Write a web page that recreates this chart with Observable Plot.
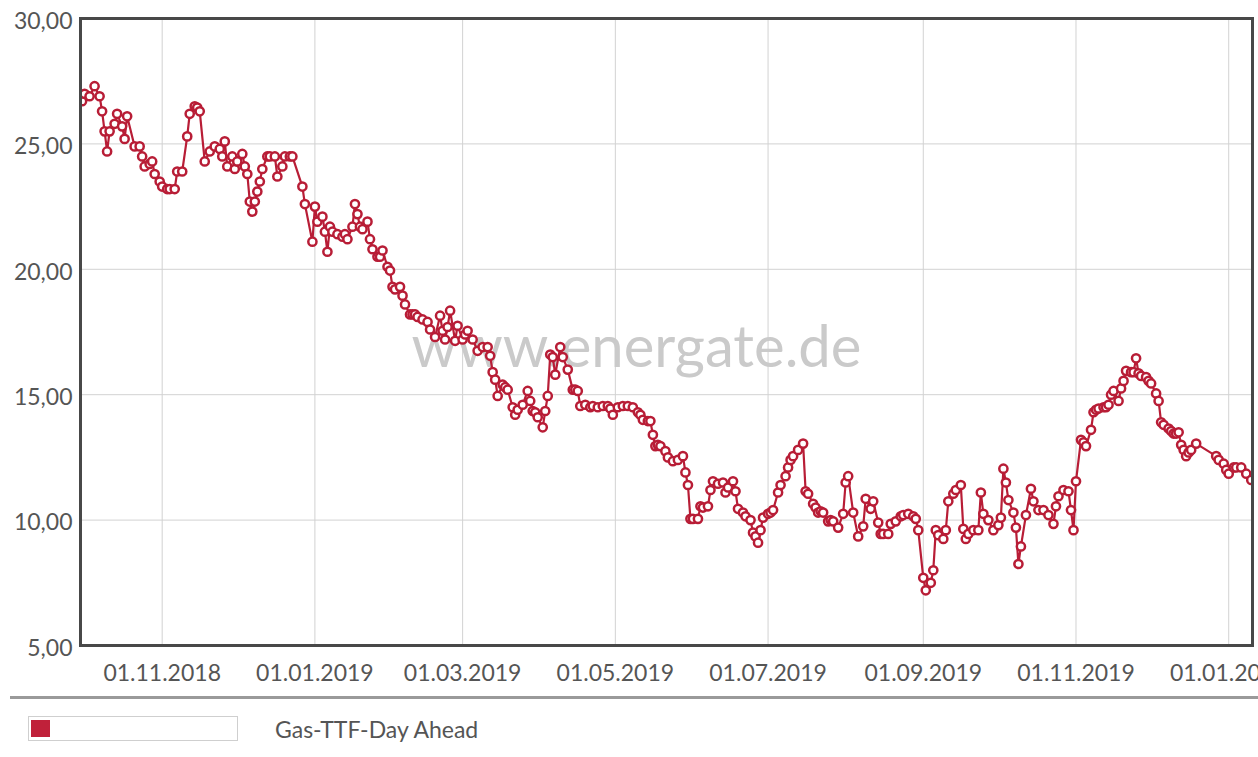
<!DOCTYPE html>
<html>
<head>
<meta charset="utf-8">
<script src="https://cdn.jsdelivr.net/npm/d3@7"></script>
<script src="https://cdn.jsdelivr.net/npm/@observablehq/plot@0.6"></script>
<style>
  html, body { margin: 0; padding: 0; background: #fff; overflow: hidden; }
  body { width: 1258px; height: 757px; position: relative; font-family: Lato, "Open Sans", sans-serif; }
  #chart { position: absolute; left: 0; top: 0; }
  #sep { position: absolute; left: 10px; right: 0; top: 696px; height: 3px; background: #9a9a9a; }
  #legbox { position: absolute; left: 28px; top: 716px; width: 210px; height: 25px; border: 1px solid #cfcfcf; box-sizing: border-box; }
  #legsw { position: absolute; left: 2px; top: 3px; width: 19px; height: 17px; background: #c0213a; }
  #legtxt { position: absolute; left: 275px; top: 714px; font-family: Lato, sans-serif; font-size: 23px; color: #555; line-height: 30px; }
</style>
</head>
<body>
<div id="chart"></div>
<div id="sep"></div>
<div id="legbox"><div id="legsw"></div></div>
<div id="legtxt">Gas-TTF-Day Ahead</div>
<script>
const seriesName = "Gas-TTF-Day Ahead";
const watermark = "www.energate.de";

const dates = [
"2018-09-30","2018-10-01","2018-10-03","2018-10-05","2018-10-07","2018-10-08","2018-10-09","2018-10-10","2018-10-11","2018-10-13",
"2018-10-14","2018-10-16","2018-10-17","2018-10-18","2018-10-21","2018-10-23","2018-10-24","2018-10-25","2018-10-27","2018-10-28",
"2018-10-29","2018-10-31","2018-11-01","2018-11-03","2018-11-04","2018-11-06","2018-11-07","2018-11-09","2018-11-11","2018-11-12",
"2018-11-14","2018-11-15","2018-11-16","2018-11-18","2018-11-20","2018-11-22","2018-11-24","2018-11-25","2018-11-26","2018-11-27",
"2018-11-29","2018-11-30","2018-12-01","2018-12-03","2018-12-04","2018-12-05","2018-12-06","2018-12-07","2018-12-08","2018-12-09",
"2018-12-10","2018-12-11","2018-12-13","2018-12-14","2018-12-16","2018-12-17","2018-12-19","2018-12-20","2018-12-22","2018-12-23",
"2018-12-27","2018-12-28","2018-12-31","2019-01-01","2019-01-02","2019-01-04","2019-01-05","2019-01-06","2019-01-07","2019-01-08",
"2019-01-10","2019-01-12","2019-01-13","2019-01-14","2019-01-16","2019-01-17","2019-01-18","2019-01-19","2019-01-20","2019-01-22",
"2019-01-23","2019-01-24","2019-01-26","2019-01-27","2019-01-28","2019-01-30","2019-01-31","2019-02-01","2019-02-02","2019-02-04",
"2019-02-05","2019-02-06","2019-02-08","2019-02-09","2019-02-10","2019-02-11","2019-02-13","2019-02-15","2019-02-16","2019-02-18",
"2019-02-20","2019-02-21","2019-02-22","2019-02-23","2019-02-24","2019-02-26","2019-02-27","2019-03-01","2019-03-02","2019-03-03",
"2019-03-05","2019-03-07","2019-03-09","2019-03-11","2019-03-12","2019-03-13","2019-03-14","2019-03-15","2019-03-17","2019-03-18",
"2019-03-19","2019-03-21","2019-03-22","2019-03-23","2019-03-25","2019-03-27","2019-03-28","2019-03-29","2019-03-30","2019-03-31",
"2019-04-02","2019-04-03","2019-04-04","2019-04-05","2019-04-06","2019-04-07","2019-04-09","2019-04-10","2019-04-12","2019-04-14",
"2019-04-15","2019-04-16","2019-04-17","2019-04-19","2019-04-21","2019-04-22","2019-04-24","2019-04-26","2019-04-28","2019-04-29",
"2019-04-30","2019-05-02","2019-05-04","2019-05-06","2019-05-08","2019-05-10","2019-05-11","2019-05-12","2019-05-14","2019-05-15",
"2019-05-16","2019-05-17","2019-05-18","2019-05-19","2019-05-21","2019-05-22","2019-05-24","2019-05-26","2019-05-28","2019-05-29",
"2019-05-30","2019-05-31","2019-06-01","2019-06-03","2019-06-04","2019-06-05","2019-06-07","2019-06-08","2019-06-09","2019-06-11",
"2019-06-13","2019-06-14","2019-06-15","2019-06-17","2019-06-18","2019-06-19","2019-06-21","2019-06-22","2019-06-24","2019-06-25",
"2019-06-26","2019-06-27","2019-06-28","2019-06-29","2019-07-01","2019-07-02","2019-07-03","2019-07-05","2019-07-06","2019-07-08",
"2019-07-09","2019-07-10","2019-07-11","2019-07-13","2019-07-15","2019-07-16","2019-07-17","2019-07-19","2019-07-20","2019-07-21",
"2019-07-22","2019-07-23","2019-07-25","2019-07-26","2019-07-27","2019-07-29","2019-07-31","2019-08-01","2019-08-02","2019-08-04",
"2019-08-06","2019-08-08","2019-08-09","2019-08-11","2019-08-12","2019-08-14","2019-08-15","2019-08-16","2019-08-18","2019-08-19",
"2019-08-21","2019-08-23","2019-08-24","2019-08-26","2019-08-28","2019-08-29","2019-08-30","2019-09-01","2019-09-02","2019-09-04",
"2019-09-05","2019-09-06","2019-09-07","2019-09-09","2019-09-10","2019-09-11","2019-09-13","2019-09-14","2019-09-16","2019-09-17",
"2019-09-18","2019-09-19","2019-09-21","2019-09-23","2019-09-24","2019-09-25","2019-09-27","2019-09-29","2019-10-01","2019-10-02",
"2019-10-03","2019-10-04","2019-10-05","2019-10-07","2019-10-08","2019-10-09","2019-10-10","2019-10-12","2019-10-14","2019-10-15",
"2019-10-17","2019-10-19","2019-10-21","2019-10-23","2019-10-24","2019-10-25","2019-10-27","2019-10-29","2019-10-30","2019-10-31",
"2019-11-01","2019-11-03","2019-11-04","2019-11-05","2019-11-07","2019-11-08","2019-11-09","2019-11-10","2019-11-12","2019-11-13",
"2019-11-14","2019-11-15","2019-11-16","2019-11-18","2019-11-19","2019-11-20","2019-11-21","2019-11-23","2019-11-24","2019-11-25",
"2019-11-26","2019-11-27","2019-11-29","2019-11-30","2019-12-01","2019-12-03","2019-12-04","2019-12-05","2019-12-06","2019-12-08",
"2019-12-09","2019-12-10","2019-12-11","2019-12-12","2019-12-13","2019-12-14","2019-12-15","2019-12-16","2019-12-17","2019-12-19",
"2019-12-27","2019-12-28","2019-12-30","2019-12-31","2020-01-01","2020-01-03","2020-01-04","2020-01-06","2020-01-08","2020-01-10"
];

const prices = [
26.7, 27.0, 26.9, 27.3, 26.9, 26.3, 25.5, 24.7, 25.5, 25.8,
26.2, 25.7, 25.2, 26.1, 24.9, 24.9, 24.5, 24.1, 24.2, 24.3,
23.8, 23.5, 23.3, 23.2, 23.2, 23.2, 23.9, 23.9, 25.3, 26.2,
26.5, 26.45, 26.3, 24.3, 24.7, 24.9, 24.8, 24.5, 25.1, 24.1,
24.5, 24.0, 24.3, 24.6, 24.1, 23.8, 22.7, 22.3, 22.7, 23.1,
23.5, 24.0, 24.5, 24.5, 24.5, 23.7, 24.1, 24.5, 24.5, 24.5,
23.3, 22.6, 21.1, 22.5, 21.9, 22.1, 21.5, 20.7, 21.7, 21.5,
21.4, 21.3, 21.4, 21.2, 21.7, 22.6, 22.2, 21.7, 21.6, 21.9,
21.2, 20.8, 20.5, 20.5, 20.75, 20.1, 19.95, 19.3, 19.2, 19.3,
18.95, 18.6, 18.2, 18.2, 18.2, 18.1, 18.0, 17.9, 17.6, 17.3,
18.15, 17.55, 17.2, 17.7, 18.35, 17.15, 17.75, 17.2, 17.4, 17.55,
17.2, 16.75, 16.9, 16.9, 16.55, 15.9, 15.6, 14.95, 15.4, 15.3,
15.2, 14.5, 14.2, 14.4, 14.6, 15.15, 14.75, 14.35, 14.3, 14.1,
13.7, 14.35, 14.95, 16.6, 16.5, 15.8, 16.9, 16.5, 16.0, 15.2,
15.2, 15.15, 14.55, 14.6, 14.5, 14.55, 14.5, 14.55, 14.55, 14.45,
14.2, 14.5, 14.55, 14.55, 14.5, 14.3, 14.2, 14.0, 13.95, 13.95,
13.4, 12.95, 13.0, 12.95, 12.75, 12.5, 12.35, 12.4, 12.55, 11.9,
11.4, 10.05, 10.05, 10.05, 10.55, 10.5, 10.55, 11.2, 11.55, 11.45,
11.5, 11.1, 11.3, 11.55, 11.15, 10.45, 10.3, 10.15, 10.0, 9.5,
9.35, 9.1, 9.6, 10.1, 10.25, 10.3, 10.4, 11.1, 11.4, 11.75,
12.1, 12.4, 12.55, 12.8, 13.05, 11.15, 11.05, 10.65, 10.5, 10.3,
10.35, 10.3, 9.95, 10.0, 9.95, 9.7, 10.25, 11.5, 11.75, 10.3,
9.35, 9.75, 10.85, 10.45, 10.75, 9.9, 9.45, 9.45, 9.45, 9.85,
9.95, 10.15, 10.2, 10.25, 10.15, 10.05, 9.6, 7.7, 7.2, 7.5,
8.0, 9.6, 9.4, 9.25, 9.6, 10.75, 11.05, 11.2, 11.4, 9.65,
9.25, 9.45, 9.6, 9.6, 11.1, 10.25, 10.0, 9.6, 9.8, 10.1,
12.05, 11.5, 10.8, 10.3, 9.7, 8.25, 8.95, 10.2, 11.25, 10.75,
10.4, 10.4, 10.2, 9.85, 10.55, 10.95, 11.2, 11.15, 10.4, 9.6,
11.55, 13.2, 13.1, 12.95, 13.6, 14.3, 14.4, 14.45, 14.5, 14.5,
14.6, 15.0, 15.15, 14.75, 15.25, 15.55, 15.95, 15.9, 15.9, 16.45,
15.85, 15.75, 15.7, 15.55, 15.45, 15.05, 14.75, 13.9, 13.8, 13.65,
13.55, 13.45, 13.45, 13.5, 13.0, 12.8, 12.55, 12.7, 12.8, 13.05,
12.55, 12.4, 12.25, 12.0, 11.85, 12.1, 12.1, 12.1, 11.85, 11.6
];

const xTickDates = ["2018-11-01","2019-01-01","2019-03-01","2019-05-01","2019-07-01","2019-09-01","2019-11-01","2020-01-01"];
const yTickValues = [5, 10, 15, 20, 25, 30];
const xDomain = ["2018-09-29T09:00:00Z", "2020-01-10T12:00:00Z"];
const yDomain = [5, 30];

const red = "#c0213a";
const data = dates.map((d, i) => ({date: new Date(d), value: prices[i]}));
const xTicks = xTickDates.map(d => new Date(d));
const fmtDate = d3.utcFormat("%d.%m.%Y");
const fmtNum = v => v.toFixed(2).replace(".", ",");

const chart = Plot.plot({
  width: 1258,
  height: 690,
  marginLeft: 80,
  marginRight: 6,
  marginTop: 18,
  marginBottom: 45,
  x: {type: "utc", domain: xDomain.map(d => new Date(d))},
  y: {domain: yDomain},
  style: {fontFamily: "Lato, sans-serif", fontSize: "23px", color: "#555", background: "white"},
  marks: [
    Plot.gridY(yTickValues, {stroke: "#d2d2d2", strokeOpacity: 1}),
    Plot.gridX(xTicks, {stroke: "#d2d2d2", strokeOpacity: 1}),
    Plot.text([watermark], {frameAnchor: "middle", dx: -30, dy: 16, fontSize: 58, fill: "#cacaca", fontFamily: "Lato, sans-serif"}),
    Plot.line(data, {x: "date", y: "value", stroke: "#b81d36", strokeWidth: 2.2, clip: true}),
    Plot.dot(data, {x: "date", y: "value", r: 4.1, stroke: "#b81d36", strokeWidth: 2.5, fill: "white", clip: true}),
    Plot.frame({stroke: "#484848", strokeWidth: 3}),
    Plot.axisY(yTickValues, {tickSize: 0, tickPadding: 8, tickFormat: fmtNum, fontSize: 23, dy: 3, label: null}),
    Plot.axisX(xTicks, {tickSize: 0, tickPadding: 19, tickFormat: fmtDate, fontSize: 23, label: null})
  ]
});
document.getElementById("chart").appendChild(chart);
</script>
</body>
</html>
